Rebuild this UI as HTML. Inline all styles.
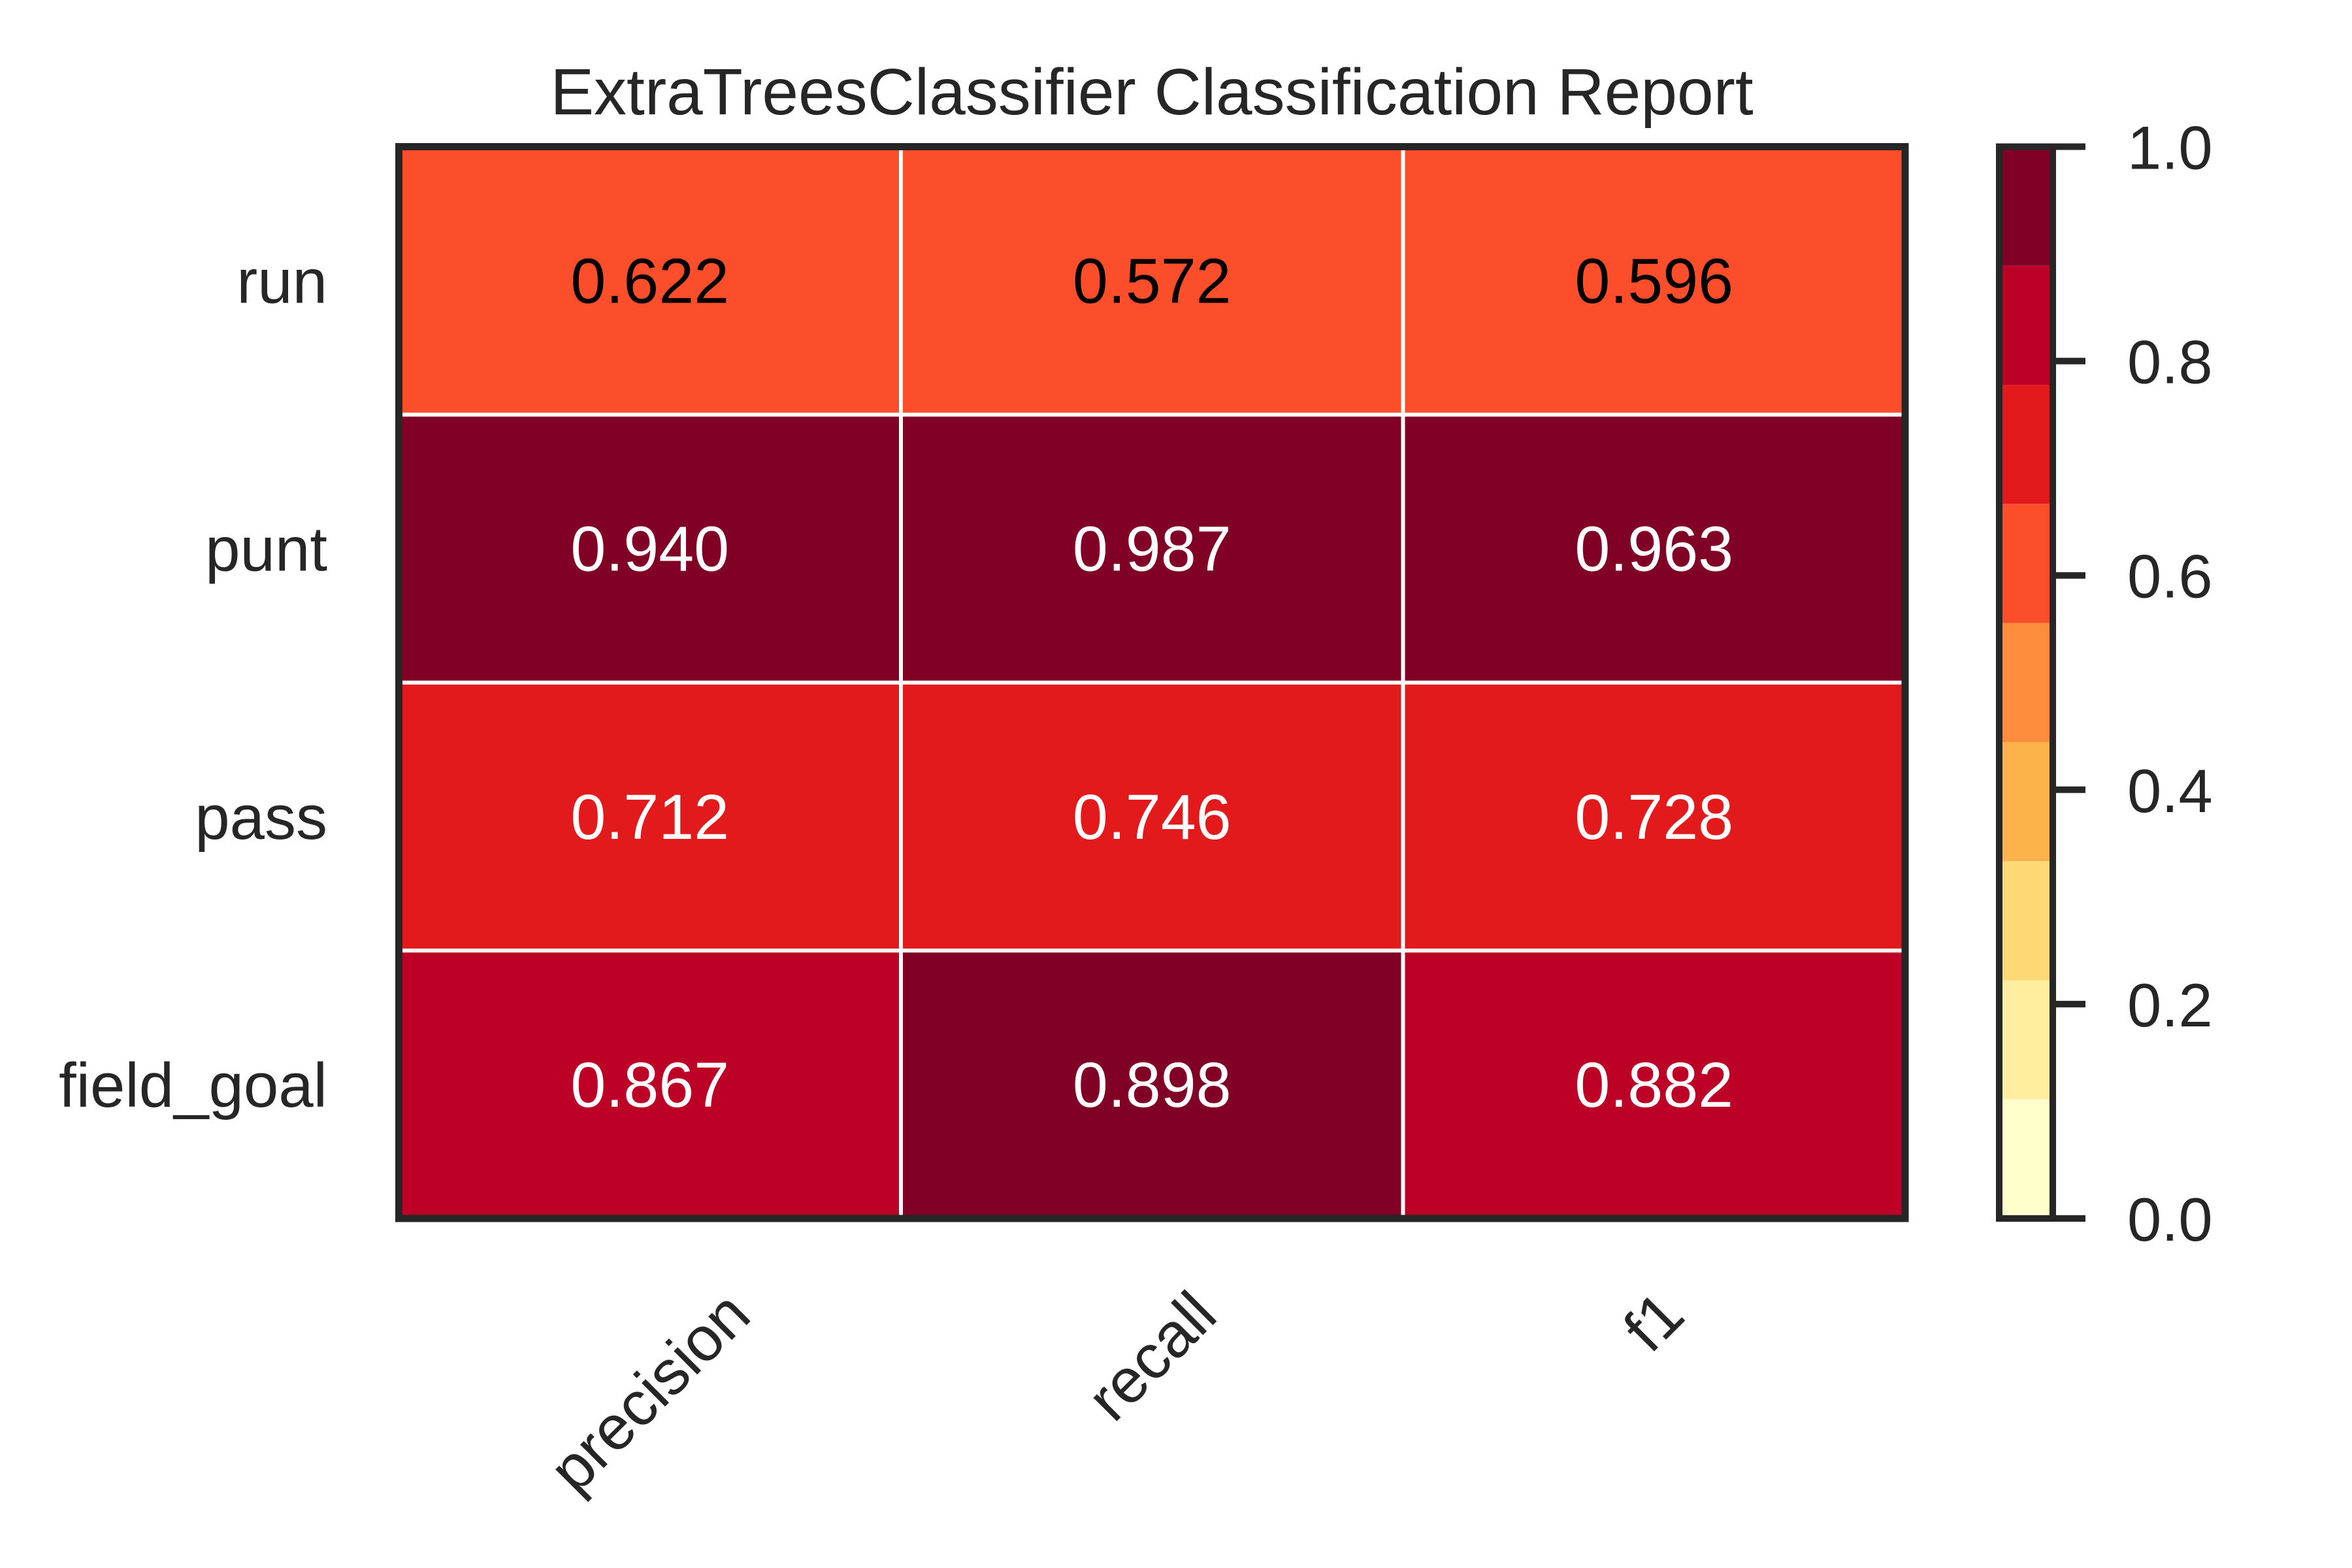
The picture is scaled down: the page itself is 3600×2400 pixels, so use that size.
<!DOCTYPE html>
<html><head><meta charset="utf-8"><style>
html,body{margin:0;padding:0;background:#fff;}
svg{display:block;font-family:"Liberation Sans",Arial,sans-serif;}
</style></head><body>
<svg id="chart" width="3600" height="2400" viewBox="0 0 3600 2400" xmlns="http://www.w3.org/2000/svg">
<rect width="3600" height="2400" fill="#fff"/>
<text x="1763" y="175" font-size="100" text-anchor="middle" fill="#262626">ExtraTreesClassifier Classification Report</text>
<g id="cells"></g>
<g id="cbar"></g>
<g id="labels"></g>
</svg>
<script>
const classes = ["run","punt","pass","field_goal"];
const metrics = ["precision","recall","f1"];
const precisionVals = [0.622, 0.940, 0.712, 0.867];
const recallVals = [0.572, 0.987, 0.746, 0.898];
const f1Vals = [0.596, 0.963, 0.728, 0.882];
const cbarTicks = [0.0, 0.2, 0.4, 0.6, 0.8, 1.0];
const palette = ["#ffffcc","#ffeda0","#fed976","#feb24c","#fd8d3c","#fc4e2a","#e31a1c","#bd0026","#800026"];

const NS="http://www.w3.org/2000/svg";
const L=610.5, R=2916, T=224.5, B=1865;
const cw=(R-L)/metrics.length, ch=(B-T)/classes.length;
function xCol(i){return L+i*cw;}
function yRow(j){return T+j*ch;}
function colorFor(v){let k=Math.floor(v*palette.length);if(k>=palette.length)k=palette.length-1;if(k<0)k=0;return palette[k];}
function mk(tag,attrs,parent){const e=document.createElementNS(NS,tag);for(const k in attrs)e.setAttribute(k,attrs[k]);parent.appendChild(e);return e;}

const cells=document.getElementById('cells');
const series=[precisionVals,recallVals,f1Vals];
series.forEach((vals,i)=>{
  vals.forEach((v,j)=>{
    const r=mk('rect',{x:xCol(i),y:yRow(j),width:cw,height:ch,fill:colorFor(v)},cells);
    
    
  });
});
for(let i=1;i<metrics.length;i++){
  const ln=mk('line',{x1:xCol(i),x2:xCol(i),y1:T,y2:B,stroke:'#fff','stroke-width':6},cells);
  
  
}
for(let j=1;j<classes.length;j++){
  const ln=mk('line',{x1:L,x2:R,y1:yRow(j),y2:yRow(j),stroke:'#fff','stroke-width':6},cells);
  
  
}
series.forEach((vals,i)=>{
  vals.forEach((v,j)=>{
    const t=mk('text',{x:xCol(i)+cw/2,y:yRow(j)+ch/2+34,'font-size':97,'text-anchor':'middle',fill:(v<0.7?'#000':'#fff')},cells);
    t.textContent=v.toFixed(3);
    
    
  });
});
const fr=mk('rect',{x:L,y:T,width:R-L,height:B-T,fill:'none',stroke:'#262626','stroke-width':11},cells);



const lab=document.getElementById('labels');
classes.forEach((c,j)=>{
  const t=mk('text',{x:501,y:yRow(j)+ch/2+34,'font-size':96,'text-anchor':'end',fill:'#262626'},lab);
  t.textContent=c;
  
  
});
metrics.forEach((m,i)=>{
  const cx=xCol(i)+cw/2;
  const t=mk('text',{x:0,y:0,'font-size':96,'text-anchor':'middle',fill:'#262626'},lab);
  t.textContent=m;
  
  
  const w=t.getComputedTextLength();
  const h=96*0.95;
  const half=(w+h)*Math.SQRT1_2/2;
  const cy=1963+half;
  t.setAttribute('transform','translate('+cx+','+cy+') rotate(-45) translate(0,'+(h*0.35)+')');
});

const cb=document.getElementById('cbar');
const CL=3060, CR=3142;
function yC(v){return B-(B-T)*v;}
palette.forEach((p,k)=>{
  const v0=k/palette.length, v1=(k+1)/palette.length;
  const r=mk('rect',{x:CL,y:yC(v1),width:CR-CL,height:yC(v0)-yC(v1),fill:p},cb);
  
  
});
const cf=mk('rect',{x:CL,y:T,width:CR-CL,height:B-T,fill:'none',stroke:'#262626','stroke-width':10},cb);


cbarTicks.forEach(v=>{
  const ln=mk('line',{x1:CR,x2:3192,y1:yC(v),y2:yC(v),stroke:'#262626','stroke-width':10},cb);
  
  
  const t=mk('text',{x:3256,y:yC(v)+34,'font-size':94,fill:'#262626'},cb);
  t.textContent=v.toFixed(1);
  
  
});
</script>
</body></html>
